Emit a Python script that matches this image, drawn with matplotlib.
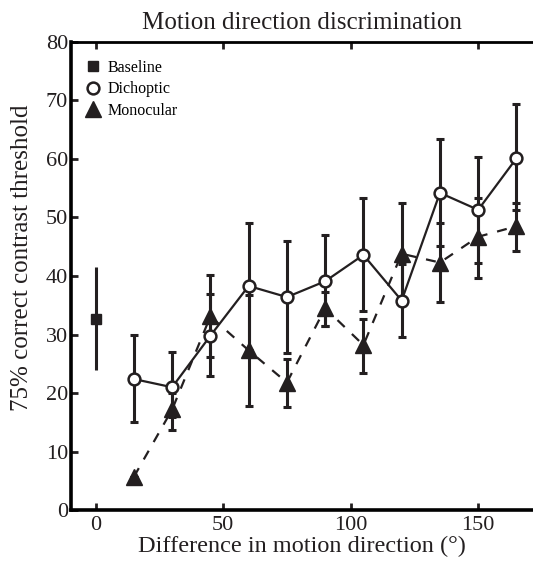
import numpy as np
import matplotlib
matplotlib.use("Agg")
import matplotlib.pyplot as plt
from matplotlib.lines import Line2D

# data
directions = [15, 30, 45, 60, 75, 90, 105, 120, 135, 150, 165]

baseline_x = [0]
baseline_y = [32.6]
baseline_lo = [23.9]
baseline_hi = [41.6]

dichoptic_y = [22.4, 21.0, 29.8, 38.3, 36.4, 39.1, 43.6, 35.8, 54.2, 51.3, 60.1]
dichoptic_lo = [15.1, 15.9, 22.9, 27.4, 26.9, 31.4, 34.0, 29.6, 45.2, 42.3, 51.2]
dichoptic_hi = [30.0, 27.0, 36.9, 49.1, 46.0, 47.0, 53.3, 42.1, 63.4, 60.4, 69.4]

monocular_y = [5.7, 17.2, 33.1, 27.3, 21.8, 34.5, 28.2, 43.8, 42.3, 46.7, 48.5]
monocular_lo = [5.7, 13.7, 26.2, 17.8, 17.6, 31.5, 23.5, 35.0, 35.5, 39.7, 44.3]
monocular_hi = [5.7, 20.0, 40.2, 36.8, 25.9, 37.3, 32.6, 52.4, 49.1, 53.3, 52.5]

x_ticks = [0, 50, 100, 150]
y_ticks = [0, 10, 20, 30, 40, 50, 60, 70, 80]

plt.rcParams["font.family"] = ["Liberation Serif", "DejaVu Serif"]
ink = "#231f20"


def yerr(y, lo, hi):
    y = np.asarray(y)
    return np.vstack([y - np.asarray(lo), np.asarray(hi) - y])


fig = plt.figure(figsize=(5.33, 5.65), dpi=100)
ax = fig.add_axes([0.133, 0.097, 0.867, 0.829])

# monocular (dashed, filled triangles)
ax.errorbar(directions, monocular_y, yerr=yerr(monocular_y, monocular_lo, monocular_hi),
            fmt="none", ecolor=ink, elinewidth=2.2, capsize=3.2, capthick=2.2, zorder=2)
ax.plot(directions, monocular_y, color=ink, linestyle=(0, (4.5, 4.5)), linewidth=1.6,
        marker="^", markersize=11, markerfacecolor=ink, markeredgecolor=ink, zorder=3)

# dichoptic (solid, open circles)
ax.errorbar(directions, dichoptic_y, yerr=yerr(dichoptic_y, dichoptic_lo, dichoptic_hi),
            fmt="none", ecolor=ink, elinewidth=2.2, capsize=3.2, capthick=2.2, zorder=4)
ax.plot(directions, dichoptic_y, color=ink, linestyle="-", linewidth=1.6,
        marker="o", markersize=8.5, markerfacecolor="white", markeredgecolor=ink,
        markeredgewidth=1.8, zorder=5)

# baseline
ax.errorbar(baseline_x, baseline_y, yerr=yerr(baseline_y, baseline_lo, baseline_hi),
            fmt="none", ecolor=ink, elinewidth=2.2, capsize=0, zorder=4)
ax.plot(baseline_x, baseline_y, linestyle="none", marker="s", markersize=7,
        color=ink, zorder=5)

ax.set_xlim(-9.7, 171.5)
ax.set_ylim(0, 80)
ax.set_xticks(x_ticks)
ax.set_yticks(y_ticks)
ax.tick_params(direction="in", length=5, width=2, labelsize=16, colors=ink,
               top=True, pad=4)
ax.tick_params(axis="y", pad=2)
for side in ["left", "bottom"]:
    ax.spines[side].set_linewidth(2.6)
ax.spines["top"].set_linewidth(2.0)
ax.spines["right"].set_visible(False)

ax.set_title("Motion direction discrimination", fontsize=18, pad=9, color=ink)
ax.set_xlabel("Difference in motion direction (°)", fontsize=17.5, labelpad=1, color=ink)
ax.set_ylabel("75% correct contrast threshold", fontsize=18, color=ink)
ax.yaxis.set_label_coords(-0.083, 0.54)

# legend shows markers only
handles = [
    Line2D([], [], linestyle="none", marker="s", markersize=7, color=ink),
    Line2D([], [], linestyle="none", marker="o", markersize=8.5, markerfacecolor="white",
           markeredgecolor=ink, markeredgewidth=1.8),
    Line2D([], [], linestyle="none", marker="^", markersize=11, color=ink),
]
labels = ["Baseline", "Dichoptic", "Monocular"]
ax.legend(handles, labels, loc="upper left", frameon=False, fontsize=11.5,
          handlelength=1.0, handletextpad=0.4, labelspacing=0.35, borderaxespad=0.0,
          bbox_to_anchor=(0.017, 0.975))

fig.savefig("out.png", dpi=100)
